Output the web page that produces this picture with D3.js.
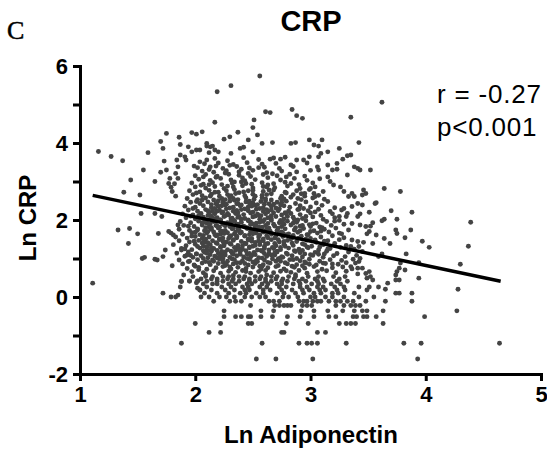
<!DOCTYPE html>
<html><head><meta charset="utf-8">
<script src="https://cdn.jsdelivr.net/npm/d3@7"></script>
<style>body{margin:0;background:#fff}svg{display:block}</style>
</head><body><svg id="c" width="547" height="451"></svg>
<script>
const xTicks = [1, 2, 3, 4, 5];
const yTicks = [-2, -1, 0, 1, 2, 3, 4, 5, 6];
const yTickLabels = [-2, 0, 2, 4, 6];
const fitLine = [[1.11, 2.64], [4.65, 0.41]];
const statLines = ["r = -0.27", "p<0.001"];

// rows where Ln CRP takes discrete values (low CRP readings)
const quantizedRows = [
  [-1.61, [2.53, 2.70, 3.02, 3.93]],
  [-1.20, [1.88, 2.58, 2.90, 2.97, 3.01, 3.06, 3.31, 3.81, 3.96, 4.64]],
  [-0.92, [2.12, 2.22, 2.75, 2.77, 3.06, 3.13]],
  [-0.69, [2.00, 2.22, 2.46, 2.49, 2.79, 2.98, 3.25, 3.31, 3.35, 3.39, 3.63]],
  [-0.51, [2.25, 2.35, 2.40, 2.46, 2.48, 2.57, 2.67, 2.80, 2.91, 3.03, 3.16, 3.22, 3.37, 3.40, 3.46, 3.49, 3.57, 3.99]],
  [-0.36, [2.25, 2.57, 2.68, 2.92, 3.03, 3.15, 3.28, 3.38, 3.45, 3.49, 3.63, 4.27]],
  [-0.22, [2.48, 2.69, 2.73, 2.77, 2.80, 2.83, 2.93, 2.97, 3.01, 3.22, 3.29, 3.35, 3.39, 3.43]],
  [-0.11, [2.16, 2.30, 2.35, 2.40, 2.64, 2.68, 2.73, 2.90, 2.94, 2.97, 3.02, 3.06, 3.09, 3.16, 3.22, 3.26, 3.32, 3.37, 3.48, 3.65, 3.88]],
  [0.00, [1.79, 1.83, 2.05, 2.12, 2.21, 2.27, 2.34, 2.43, 2.49, 2.56, 2.61, 2.76, 2.81, 2.89, 3.00, 3.04, 3.13, 3.19, 3.29, 3.42, 3.55]],
  [0.10, [1.72, 2.08, 2.19, 2.29, 2.39, 2.44, 2.53, 2.59, 2.71, 2.77, 2.87, 2.94, 3.03, 3.09, 3.19, 3.24, 3.38, 3.74, 3.77, 3.88]],
  [0.18, [2.04, 2.14, 2.26, 2.34, 2.43, 2.47, 2.59, 2.65, 2.75, 2.84, 2.93, 2.99, 3.08, 3.13, 3.23, 3.30, 3.49]],
  [0.26, [1.87, 2.10, 2.23, 2.31, 2.41, 2.46, 2.56, 2.62, 2.73, 2.79, 2.91, 2.97, 3.06, 3.11, 3.21, 3.29, 3.42, 3.51, 3.59]],
  [0.34, [2.07, 2.15, 2.19, 2.29, 2.35, 2.45, 2.49, 2.58, 2.63, 2.71, 2.75, 2.85, 2.91, 3.01, 3.07, 3.18, 3.26]],
  [0.41, [1.88, 1.95, 2.02, 2.10, 2.19, 2.24, 2.32, 2.38, 2.47, 2.52, 2.61, 2.66, 2.75, 2.80, 2.90, 2.96, 3.06, 3.12, 3.23, 3.32]],
  [0.47, [2.05, 2.14, 2.19, 2.28, 2.33, 2.42, 2.47, 2.56, 2.61, 2.70, 2.76, 2.86, 2.93, 3.04, 3.11, 3.25]],
  [0.53, [1.98, 2.09, 2.15, 2.24, 2.29, 2.38, 2.43, 2.52, 2.57, 2.66, 2.71, 2.81, 2.87, 2.98, 3.07, 3.20, 3.30]]
];

const corePoints = [
  [1.97,0.66],[2.07,0.63],[2.16,0.68],[2.22,0.62],[2.29,0.67],[2.35,0.64],[2.41,0.69],[2.48,0.62],[2.55,0.66],[2.61,0.69],[2.68,0.63],[2.74,0.67],[2.83,0.64],[2.90,0.69],[2.97,0.62],[3.06,0.66],[3.14,0.68],[3.22,0.63],[3.31,0.67],
  [1.93,0.74],[2.03,0.77],[2.10,0.72],[2.18,0.76],[2.24,0.79],[2.31,0.73],[2.37,0.77],[2.44,0.74],[2.50,0.78],[2.57,0.72],[2.63,0.76],[2.70,0.79],[2.77,0.73],[2.86,0.77],[2.95,0.75],[3.03,0.79],[3.10,0.72],[3.19,0.76],[3.28,0.78],[3.36,0.73],
  [1.89,0.86],[1.99,0.83],[2.06,0.88],[2.13,0.84],[2.20,0.87],[2.26,0.82],[2.33,0.86],[2.39,0.89],[2.46,0.83],[2.52,0.87],[2.59,0.84],[2.65,0.88],[2.72,0.82],[2.80,0.86],[2.88,0.84],[2.96,0.88],[3.05,0.83],[3.13,0.87],[3.24,0.85],[3.31,0.89],
  [1.86,0.96],[1.95,0.93],[2.02,0.97],[2.09,0.92],[2.15,0.96],[2.21,0.99],[2.28,0.93],[2.34,0.97],[2.41,0.94],[2.47,0.98],[2.54,0.92],[2.60,0.96],[2.67,0.99],[2.74,0.93],[2.82,0.97],[2.91,0.94],[2.99,0.98],[3.08,0.93],[3.17,0.97],[3.27,0.95],[3.37,0.98],
  [1.91,1.06],[1.98,1.03],[2.05,1.07],[2.11,1.02],[2.17,1.06],[2.23,1.09],[2.30,1.03],[2.36,1.07],[2.42,1.04],[2.49,1.08],[2.55,1.02],[2.62,1.06],[2.69,1.09],[2.76,1.03],[2.84,1.07],[2.93,1.04],[3.02,1.08],[3.11,1.03],[3.20,1.07],[3.30,1.05],[3.40,1.08],
  [1.84,1.14],[1.94,1.17],[2.01,1.12],[2.08,1.16],[2.14,1.19],[2.20,1.13],[2.26,1.17],[2.32,1.14],[2.39,1.18],[2.45,1.12],[2.51,1.16],[2.58,1.19],[2.64,1.13],[2.71,1.17],[2.79,1.14],[2.87,1.18],[2.95,1.12],[3.04,1.16],[3.14,1.19],[3.23,1.13],[3.33,1.17],
  [1.88,1.26],[1.97,1.23],[2.04,1.27],[2.10,1.22],[2.16,1.26],[2.22,1.29],[2.28,1.23],[2.35,1.27],[2.41,1.24],[2.47,1.28],[2.54,1.22],[2.60,1.26],[2.67,1.29],[2.74,1.23],[2.81,1.27],[2.90,1.24],[2.98,1.28],[3.07,1.22],[3.17,1.26],[3.26,1.29],[3.38,1.24],
  [1.81,1.36],[1.92,1.33],[2.00,1.37],[2.07,1.32],[2.13,1.36],[2.19,1.39],[2.25,1.33],[2.31,1.37],[2.37,1.34],[2.44,1.38],[2.50,1.32],[2.56,1.36],[2.63,1.39],[2.70,1.33],[2.77,1.37],[2.85,1.34],[2.93,1.38],[3.01,1.32],[3.11,1.36],[3.21,1.39],[3.31,1.34],
  [1.86,1.46],[1.95,1.43],[2.03,1.47],[2.09,1.42],[2.15,1.46],[2.21,1.49],[2.27,1.43],[2.33,1.47],[2.40,1.44],[2.46,1.48],[2.52,1.42],[2.59,1.46],[2.66,1.49],[2.73,1.43],[2.80,1.47],[2.88,1.44],[2.97,1.48],[3.05,1.42],[3.15,1.46],[3.25,1.49],
  [1.83,1.56],[1.93,1.53],[2.00,1.57],[2.06,1.52],[2.12,1.56],[2.18,1.59],[2.24,1.53],[2.30,1.57],[2.36,1.54],[2.43,1.58],[2.49,1.52],[2.55,1.56],[2.62,1.59],[2.69,1.53],[2.76,1.57],[2.84,1.54],[2.92,1.58],[3.00,1.52],[3.09,1.56],[3.19,1.59],[3.29,1.54],
  [1.79,1.66],[1.89,1.63],[1.97,1.67],[2.04,1.62],[2.10,1.66],[2.16,1.69],[2.22,1.63],[2.28,1.67],[2.34,1.64],[2.40,1.68],[2.47,1.62],[2.53,1.66],[2.59,1.69],[2.66,1.63],[2.73,1.67],[2.81,1.64],[2.89,1.68],[2.97,1.62],[3.06,1.66],[3.16,1.69],[3.27,1.64],
  [1.86,1.76],[1.95,1.73],[2.02,1.77],[2.08,1.72],[2.14,1.76],[2.20,1.79],[2.26,1.73],[2.32,1.77],[2.38,1.74],[2.45,1.78],[2.51,1.72],[2.57,1.76],[2.64,1.79],[2.71,1.73],[2.78,1.77],[2.86,1.74],[2.94,1.78],[3.03,1.72],[3.12,1.76],[3.22,1.79],[3.33,1.74],
  [1.90,1.86],[1.99,1.83],[2.06,1.87],[2.12,1.82],[2.18,1.86],[2.24,1.89],[2.30,1.83],[2.36,1.87],[2.42,1.84],[2.48,1.88],[2.55,1.82],[2.61,1.86],[2.68,1.89],[2.75,1.83],[2.83,1.87],[2.91,1.84],[2.99,1.88],[3.08,1.82],[3.18,1.86],[3.29,1.89],
  [1.87,1.96],[1.96,1.93],[2.03,1.97],[2.10,1.92],[2.16,1.96],[2.22,1.99],[2.28,1.93],[2.34,1.97],[2.40,1.94],[2.46,1.98],[2.53,1.92],[2.59,1.96],[2.66,1.99],[2.73,1.93],[2.80,1.97],[2.88,1.94],[2.96,1.98],[3.05,1.92],[3.14,1.96],[3.25,1.99],
  [1.92,2.06],[2.00,2.03],[2.07,2.07],[2.13,2.02],[2.19,2.06],[2.25,2.09],[2.31,2.03],[2.37,2.07],[2.43,2.04],[2.50,2.08],[2.56,2.02],[2.63,2.06],[2.70,2.09],[2.77,2.03],[2.85,2.07],[2.93,2.04],[3.02,2.08],[3.11,2.02],[3.21,2.06],[3.31,2.09],
  [1.89,2.16],[1.98,2.13],[2.05,2.17],[2.11,2.12],[2.17,2.16],[2.23,2.19],[2.29,2.13],[2.35,2.17],[2.42,2.14],[2.48,2.18],[2.55,2.12],[2.61,2.16],[2.68,2.19],[2.75,2.13],[2.83,2.17],[2.91,2.14],[3.00,2.18],[3.09,2.12],[3.19,2.16],
  [1.94,2.26],[2.02,2.23],[2.09,2.27],[2.15,2.22],[2.21,2.26],[2.27,2.29],[2.33,2.23],[2.40,2.27],[2.46,2.24],[2.53,2.28],[2.59,2.22],[2.66,2.26],[2.73,2.29],[2.81,2.23],[2.89,2.27],[2.98,2.24],[3.07,2.28],[3.17,2.22],[3.27,2.26],
  [1.91,2.36],[2.00,2.33],[2.07,2.37],[2.14,2.32],[2.20,2.36],[2.26,2.39],[2.33,2.33],[2.39,2.37],[2.46,2.34],[2.52,2.38],[2.59,2.32],[2.66,2.36],[2.74,2.39],[2.82,2.33],[2.91,2.37],[3.00,2.34],[3.10,2.38],[3.21,2.32],
  [1.96,2.46],[2.04,2.43],[2.11,2.47],[2.18,2.42],[2.24,2.46],[2.30,2.49],[2.37,2.43],[2.44,2.47],[2.50,2.44],[2.57,2.48],[2.64,2.42],[2.71,2.46],[2.79,2.49],[2.87,2.43],[2.96,2.47],[3.05,2.44],[3.15,2.48],
  [1.93,2.56],[2.02,2.53],[2.09,2.57],[2.16,2.52],[2.23,2.56],[2.30,2.59],[2.37,2.53],[2.44,2.57],[2.51,2.54],[2.58,2.58],[2.66,2.52],[2.74,2.56],[2.83,2.59],[2.92,2.53],[3.02,2.57],[3.12,2.54],
  [1.98,2.66],[2.06,2.63],[2.14,2.67],[2.21,2.62],[2.28,2.66],[2.35,2.69],[2.43,2.63],[2.50,2.67],[2.58,2.64],[2.66,2.68],[2.75,2.62],[2.85,2.66],[2.95,2.69],[3.07,2.64],
  [1.95,2.76],[2.04,2.73],[2.12,2.77],[2.20,2.72],[2.27,2.76],[2.34,2.79],[2.42,2.73],[2.50,2.77],[2.59,2.74],[2.68,2.78],[2.78,2.72],[2.88,2.76],[2.99,2.79],[3.11,2.74],
  [2.00,2.86],[2.09,2.83],[2.17,2.87],[2.25,2.82],[2.33,2.86],[2.41,2.89],[2.50,2.83],[2.59,2.87],[2.69,2.84],[2.80,2.88],[2.91,2.82],[3.04,2.86],
  [1.97,2.96],[2.07,2.93],[2.15,2.97],[2.23,2.92],[2.32,2.96],[2.40,2.99],[2.49,2.93],[2.58,2.97],[2.68,2.94],[2.78,2.98],[2.90,2.92],[3.02,2.96],
  [2.03,3.06],[2.13,3.03],[2.22,3.08],[2.31,3.04],[2.41,3.09],[2.52,3.05],[2.63,3.10],[2.74,3.04],[2.86,3.08],[2.97,3.03],[3.08,3.07],
  [2.00,3.15],[2.09,3.18],[2.19,3.14],[2.29,3.19],[2.38,3.16],[2.48,3.13],[2.59,3.18],[2.71,3.15],[2.82,3.19],[2.95,3.14],
  [2.06,3.27],[2.16,3.24],[2.27,3.28],[2.38,3.25],[2.50,3.29],[2.62,3.23],[2.75,3.27],[2.88,3.25],[3.00,3.29],
  [2.02,3.36],[2.13,3.38],[2.24,3.34],[2.36,3.39],[2.47,3.35],[2.60,3.37],[2.73,3.34],[2.85,3.39],
  [2.08,3.46],[2.20,3.48],[2.33,3.44],[2.45,3.49],[2.58,3.45],[2.70,3.47],[2.83,3.43],[2.97,3.48],
  [2.17,3.60],[2.28,3.54],[2.42,3.62],[2.55,3.57],[2.68,3.61]
];

const coreFill = [
  [2.12,0.90],[2.24,0.91],[2.36,0.89],[2.50,0.91],[2.63,0.90],[2.78,0.89],[2.95,0.91],
  [2.07,1.00],[2.19,1.01],[2.32,0.99],[2.45,1.00],[2.58,1.01],[2.72,0.99],[2.88,1.00],
  [2.13,1.10],[2.26,1.09],[2.39,1.11],[2.52,1.10],[2.66,1.09],[2.80,1.11],[3.00,1.10],
  [2.07,1.20],[2.19,1.21],[2.31,1.19],[2.44,1.20],[2.57,1.21],[2.71,1.19],[2.86,1.20],
  [2.10,1.30],[2.22,1.31],[2.34,1.29],[2.47,1.30],[2.60,1.31],[2.74,1.29],[2.97,1.30],
  [2.06,1.40],[2.18,1.41],[2.30,1.39],[2.43,1.40],[2.56,1.41],[2.69,1.39],[2.84,1.40],
  [2.09,1.50],[2.21,1.51],[2.33,1.49],[2.46,1.50],[2.59,1.51],[2.72,1.49],[2.96,1.50],
  [2.07,1.60],[2.19,1.61],[2.31,1.59],[2.43,1.60],[2.56,1.61],[2.70,1.59],[2.85,1.60],
  [2.11,1.70],[2.23,1.71],[2.35,1.69],[2.48,1.70],[2.61,1.71],[2.75,1.69],[3.00,1.70],
  [2.09,1.80],[2.21,1.81],[2.33,1.79],[2.45,1.80],[2.58,1.81],[2.72,1.79],[2.87,1.80],
  [2.13,1.90],[2.25,1.91],[2.37,1.89],[2.50,1.90],[2.63,1.91],[2.77,1.89],[3.02,1.90],
  [2.10,2.00],[2.22,2.01],[2.34,1.99],[2.46,2.00],[2.60,2.01],[2.74,1.99],[2.89,2.00],
  [2.14,2.10],[2.26,2.11],[2.38,2.09],[2.52,2.10],[2.66,2.11],[2.80,2.09],
  [2.12,2.20],[2.24,2.21],[2.37,2.19],[2.50,2.20],[2.63,2.21],[2.78,2.19],
  [2.17,2.30],[2.30,2.31],[2.43,2.29],[2.56,2.30],[2.70,2.31],
  [2.14,2.40],[2.27,2.41],[2.40,2.39],[2.54,2.40],[2.68,2.41],
  [2.20,2.50],[2.34,2.51],[2.47,2.49],[2.61,2.50]
];

const coreExtra = [
  [2.03,0.71],[2.27,0.85],[2.44,0.66],[2.58,0.79],[2.79,0.68],[2.93,0.81],[3.11,0.88],
  [2.01,1.12],[2.21,1.04],[2.35,1.21],[2.53,0.95],[2.69,1.15],[2.85,0.97],[3.07,1.11],[3.19,0.86],
  [1.99,1.45],[2.14,1.28],[2.29,1.52],[2.41,1.33],[2.55,1.46],[2.68,1.26],[2.83,1.51],[2.95,1.36],[3.12,1.45],
  [2.02,1.74],[2.17,1.62],[2.26,1.85],[2.39,1.66],[2.52,1.83],[2.65,1.71],[2.79,1.62],[2.93,1.86],[3.09,1.71],
  [1.96,2.10],[2.08,1.95],[2.19,2.23],[2.32,2.05],[2.45,2.28],[2.57,2.11],[2.72,2.24],[2.86,2.01],[3.04,2.21],
  [2.01,2.48],[2.13,2.62],[2.26,2.53],[2.38,2.71],[2.52,2.62],[2.64,2.78],[2.77,2.55],[2.92,2.68],
  [2.05,2.90],[2.18,3.11],[2.34,2.99],[2.46,3.21],[2.63,2.91],[2.79,3.12],[2.12,3.31],[2.30,3.42],[2.55,3.36],
  [2.09,0.58],[2.33,0.56],[2.62,0.57],[2.87,0.58],
  [2.11,1.41],[2.23,1.18],[2.47,1.13],[2.61,1.38],[2.75,1.05],[2.76,1.93],[2.48,1.94],[2.22,1.71],[2.36,2.42],[2.60,2.41],
  [2.90,2.28],[2.98,1.62],[3.15,1.25],[3.21,1.97],[3.25,1.66]
];

const coreExtra2 = [
  [2.00,0.80],[2.16,0.93],[2.30,0.78],[2.43,0.87],[2.56,0.80],[2.70,0.93],[2.84,0.80],[2.99,0.85],
  [1.96,1.08],[2.10,1.14],[2.24,1.00],[2.33,1.11],[2.48,1.04],[2.60,1.13],[2.73,1.00],[2.91,1.15],[3.12,1.12],
  [2.02,1.31],[2.13,1.21],[2.25,1.38],[2.38,1.26],[2.52,1.34],[2.64,1.22],[2.78,1.32],[2.93,1.21],[3.08,1.30],
  [1.97,1.58],[2.08,1.47],[2.24,1.44],[2.36,1.58],[2.49,1.45],[2.63,1.54],[2.77,1.44],[2.90,1.53],[3.04,1.48],
  [2.00,1.68],[2.14,1.80],[2.25,1.65],[2.37,1.78],[2.50,1.64],[2.62,1.77],[2.76,1.66],[2.91,1.72],[3.10,1.80],
  [1.94,1.84],[2.06,1.93],[2.19,1.84],[2.31,1.96],[2.43,1.82],[2.56,1.94],[2.69,1.84],[2.85,1.92],[3.00,1.83],
  [2.03,2.12],[2.16,2.04],[2.28,2.17],[2.40,2.02],[2.54,2.15],[2.66,2.03],[2.79,2.16],[2.96,2.09],
  [1.98,2.30],[2.11,2.24],[2.23,2.37],[2.36,2.25],[2.49,2.36],[2.62,2.27],[2.77,2.37],[2.94,2.30],
  [2.06,2.52],[2.19,2.45],[2.33,2.56],[2.47,2.44],[2.61,2.55],[2.75,2.46],[2.89,2.56],
  [2.01,2.70],[2.17,2.72],[2.31,2.63],[2.46,2.76],[2.62,2.66],[2.79,2.70],[2.95,2.62],
  [2.12,2.92],[2.28,2.88],[2.44,2.95],[2.62,2.86],[2.83,2.95],
  [2.07,3.12],[2.26,3.22],[2.43,3.02],[2.67,3.20],[2.18,3.40],[2.40,3.32]
];

const leftPoints = [
  [2.19,5.33],[2.17,4.54],[1.75,4.25],[1.86,4.15],[1.97,4.27],[2.01,4.23],[2.06,4.29],[1.70,4.04],[1.16,3.78],[1.27,3.65],
  [1.37,3.54],[1.59,3.75],[1.72,3.86],[1.55,3.30],[1.44,3.04],[1.38,2.72],[1.52,2.65],[1.65,3.00],[1.70,3.24],[1.73,3.53],
  [1.77,2.95],[1.79,2.85],[1.80,2.74],[1.83,2.62],[1.53,2.17],[1.11,0.36],[1.33,1.74],[1.43,1.78],[1.42,1.39],[1.50,1.64],
  [1.65,2.17],[1.71,2.09],[1.54,1.00],[1.56,1.03],[1.65,0.98],[1.67,0.96],[1.68,1.65],[1.72,1.05],[1.74,1.22],[1.77,1.70],
  [1.81,1.61],[1.85,1.87],[1.80,0.81],[1.85,0.05],[1.88,0.40],[1.90,0.57],[1.88,1.22],[1.91,1.25],[1.93,1.09],[1.94,0.92],
  [1.95,0.42],[2.01,0.37],[2.02,0.42],[2.04,0.18],[2.02,0.23],
  [1.83,3.21],[1.85,3.08],[1.84,3.56],[1.87,3.69],[1.85,3.38],[1.91,3.64],[1.94,3.90],[1.97,3.77],[2.01,3.82],[1.92,3.56],
  [1.99,3.40],[2.04,3.51],[2.10,3.56],[2.10,3.99],[2.13,3.90],[2.17,3.82],[1.87,3.96],[1.75,3.30],[1.78,3.08],[1.82,2.94]
];

const topPoints = [
  [2.56,5.74],[2.31,5.49],[2.61,4.81],[2.65,4.79],[2.84,4.87],[2.88,4.71],[2.93,4.64],[3.35,4.67],[2.51,4.60],[2.50,4.40],
  [2.37,4.28],[2.54,4.21],[2.25,4.10],[2.30,4.16],[2.46,4.08],[2.58,3.99],[2.67,4.01],[2.83,3.99],[2.87,4.01],[2.99,4.08],
  [3.03,3.95],[3.10,4.08],[3.07,3.92],[3.42,4.01],[2.10,3.92],[2.15,3.92],[2.04,3.82],[2.12,3.75],[2.20,3.77],[2.39,3.86],
  [2.42,3.89],[2.50,3.77],[2.31,3.73],[3.15,3.77],[3.25,3.86],[3.32,3.67],[3.28,3.58],[3.23,3.47],[3.09,3.73],[3.07,3.64],
  [2.74,3.58],[2.78,3.63],[2.65,3.58],[2.88,3.56],[2.94,3.56],[2.99,3.64],[3.15,3.43],[3.19,3.30],[3.23,3.32],[3.06,3.38],
  [3.07,3.30],[3.38,3.38],[3.41,3.34],[3.32,3.17],[3.15,3.12],[3.17,3.00],[3.20,2.91],[3.26,2.86],[3.29,2.74],[3.33,2.61],
  [3.00,2.82],[3.03,2.69],[3.04,2.61],[3.38,2.61],[3.41,2.43],[3.29,2.30],[3.32,2.17],[3.25,2.09]
];

const rightPoints = [
  [3.62,5.06],[3.43,3.30],[3.52,3.30],[3.35,3.69],[3.64,2.82],[3.78,2.74],[3.46,2.78],[3.48,2.69],[3.45,2.65],[3.36,2.69],
  [3.57,2.45],[3.45,2.39],[3.36,2.35],[3.70,2.24],[3.88,2.20],[3.51,2.20],[3.43,2.16],[3.75,2.02],[3.64,2.02],[3.56,2.43],
  [4.39,1.94],[3.62,1.98],[3.54,1.93],[3.52,1.84],[3.41,2.09],[3.36,1.91],[3.43,1.87],[3.48,1.83],[3.87,1.74],[3.74,1.74],
  [3.75,1.65],[3.57,1.61],[3.51,1.70],[3.49,1.64],[3.64,1.52],[3.82,1.54],[3.97,1.45],[4.03,1.29],[4.37,1.32],[3.69,1.39],
  [3.54,1.39],[3.46,1.42],[3.41,1.44],[3.36,1.48],[3.35,1.31],[3.42,1.31],[3.45,1.18],[3.83,1.12],[3.62,1.12],[3.59,1.05],
  [3.78,0.88],[3.77,0.75],[3.75,0.66],[3.74,0.57],[3.82,0.70],[3.94,0.89],[4.30,0.85],[3.94,0.49],[3.43,1.00],[3.42,0.92],
  [3.39,0.88],[3.35,0.79],[3.41,0.75],[3.45,0.75],[3.48,0.61],[3.51,0.66],[3.52,0.53],[3.49,0.49],[3.54,0.44],[3.41,0.60],
  [3.74,0.44],[3.77,0.44],[3.67,0.36],[3.65,0.20],[4.28,0.20]
];

const svg = d3.select("#c");
const x = d3.scaleLinear().domain([1, 5]).range([80, 541]);
const y = d3.scaleLinear().domain([-2, 6]).range([374, 66]);

const points = quantizedRows.flatMap(([v, xs]) => xs.map(u => [u, v]))
  .concat(corePoints, coreFill, coreExtra, coreExtra2, leftPoints, topPoints, rightPoints);

svg.append("g").selectAll("circle").data(points).join("circle")
  .attr("cx", d => x(d[0])).attr("cy", d => y(d[1])).attr("r", 2.45)
  .attr("fill", "#444");

svg.append("path")
  .attr("d", d3.line().x(d => x(d[0])).y(d => y(d[1]))(fitLine))
  .attr("stroke", "#000").attr("stroke-width", 3.5).attr("fill", "none");

const fontSans = "'Liberation Sans', Arial, Helvetica, sans-serif";

const gy = svg.append("g").attr("transform", "translate(80,0)")
  .call(d3.axisLeft(y).tickValues(yTicks).tickSize(7).tickSizeOuter(0).tickPadding(5)
    .tickFormat(d => yTickLabels.includes(d) ? String(d) : ""));
const gx = svg.append("g").attr("transform", "translate(0,374)")
  .call(d3.axisBottom(x).tickValues(xTicks).tickSize(7).tickSizeOuter(0).tickPadding(5)
    .tickFormat(d => String(d)));
[gx, gy].forEach(g => {
  g.select(".domain").attr("stroke", "#000").attr("stroke-width", 3).attr("stroke-linecap", "square");
  g.selectAll(".tick line").attr("stroke", "#000").attr("stroke-width", 3);
  g.selectAll(".tick text").attr("fill", "#000").style("font-family", fontSans)
    .style("font-weight", "bold").style("font-size", "22px");
});

svg.append("text").attr("x", 7).attr("y", 39).text("C")
  .attr("stroke", "#000").attr("stroke-width", 0.5)
  .style("font-family", "'Liberation Serif', 'Times New Roman', serif").style("font-size", "26px");

svg.append("text").attr("x", 311).attr("y", 31).attr("text-anchor", "middle").text("CRP")
  .style("font-family", fontSans).style("font-weight", "bold").style("font-size", "29px");

svg.append("text").attr("x", 311).attr("y", 443).attr("text-anchor", "middle").text("Ln Adiponectin")
  .style("font-family", fontSans).style("font-weight", "bold").style("font-size", "24px");

svg.append("text").attr("transform", "translate(36,218) rotate(-90)").attr("text-anchor", "middle").text("Ln CRP")
  .style("font-family", fontSans).style("font-weight", "bold").style("font-size", "24px");

svg.selectAll("text.stat").data(statLines).join("text").attr("class", "stat")
  .attr("x", 437).attr("y", (d, i) => 103 + i * 33).text(d => d)
  .style("font-family", fontSans).style("font-size", "26px").style("letter-spacing", "0.8px");
</script>
</body></html>
